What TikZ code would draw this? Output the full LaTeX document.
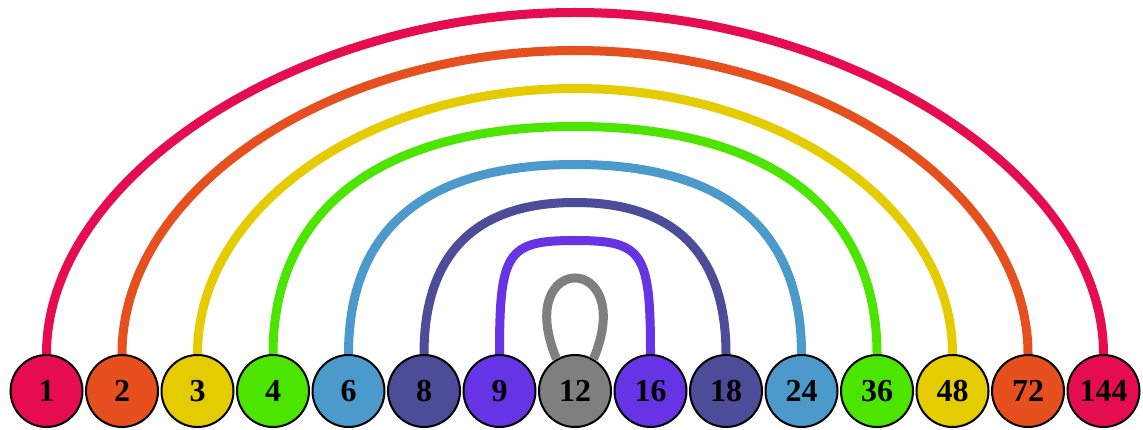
\documentclass[tikz,border=0pt]{standalone}
\usepackage{fontspec}
\setmainfont{Liberation Serif}
\definecolor{cA}{RGB}{229,12,80}
\definecolor{cB}{RGB}{229,80,30}
\definecolor{cC}{RGB}{229,204,0}
\definecolor{cD}{RGB}{76,229,0}
\definecolor{cE}{RGB}{76,153,204}
\definecolor{cF}{RGB}{76,76,153}
\definecolor{cG}{RGB}{102,51,229}
\definecolor{cH}{RGB}{127,127,127}
\tikzset{
  num/.style={circle, draw=black, line width=2pt, minimum size=72pt, inner sep=0pt,
    font=\fontsize{32}{32}\selectfont\bfseries},
  link/.style={line width=9pt}
}
\begin{document}
\begin{tikzpicture}[x=1pt,y=-1pt]
\useasboundingbox (0,0) rectangle (1143,430);
% nodes
\node[num, fill=cA] (n1)   at (46.5,391)  {1};
\node[num, fill=cB] (n2)   at (122,391)   {2};
\node[num, fill=cC] (n3)   at (197.5,391) {3};
\node[num, fill=cD] (n4)   at (273,391)   {4};
\node[num, fill=cE] (n6)   at (348.5,391) {6};
\node[num, fill=cF] (n8)   at (424,391)   {8};
\node[num, fill=cG] (n9)   at (499.5,391) {9};
\node[num, fill=cH] (n12)  at (575,391)   {12};
\node[num, fill=cG] (n16)  at (650.5,391) {16};
\node[num, fill=cF] (n18)  at (726,391)   {18};
\node[num, fill=cE] (n24)  at (801.5,391) {24};
\node[num, fill=cD] (n36)  at (877,391)   {36};
\node[num, fill=cC] (n48)  at (952.5,391) {48};
\node[num, fill=cB] (n72)  at (1028,391)  {72};
\node[num, fill=cA] (n144) at (1103.5,391){144};
% arc tops
\coordinate (t7) at (575,12.5);
\coordinate (t6) at (575,50.5);
\coordinate (t5) at (575,88.5);
\coordinate (t4) at (575,126.5);
\coordinate (t3) at (575,164.5);
\coordinate (t2) at (575,202.5);
\coordinate (t1) at (575,240.5);
% arcs
\draw[link, cA] (n1.north) .. controls +(0,-177.6) and +(-274.8,0) .. (t7)
                 .. controls +(274.8,0) and +(0,-177.6) .. (n144.north);
\draw[link, cB] (n2.north) .. controls +(0,-163.9) and +(-244.6,0) .. (t6)
                 .. controls +(244.6,0) and +(0,-163.9) .. (n72.north);
\draw[link, cC] (n3.north) .. controls +(0,-146) and +(-207.6,0) .. (t5)
                 .. controls +(207.6,0) and +(0,-146) .. (n48.north);
\draw[link, cD] (n4.north) .. controls +(0,-145.6) and +(-193.3,0) .. (t4)
                 .. controls +(193.3,0) and +(0,-145.6) .. (n36.north);
\draw[link, cE] (n6.north) .. controls +(0,-125.1) and +(-149.5,0) .. (t3)
                 .. controls +(149.5,0) and +(0,-125.1) .. (n24.north);
\draw[link, cF] (n8.north) .. controls +(0,-100) and +(-99.7,0) .. (t2)
                 .. controls +(99.7,0) and +(0,-100) .. (n18.north);
\draw[link, cG] (n9.north) .. controls +(0,-102.2) and +(-68,0) .. (t1)
                 .. controls +(68,0) and +(0,-102.2) .. (n16.north);
% self loop
\draw[link, cH] (n12.120) .. controls +(-45,-108) and +(45,-108) .. (n12.60);
\end{tikzpicture}
\end{document}
